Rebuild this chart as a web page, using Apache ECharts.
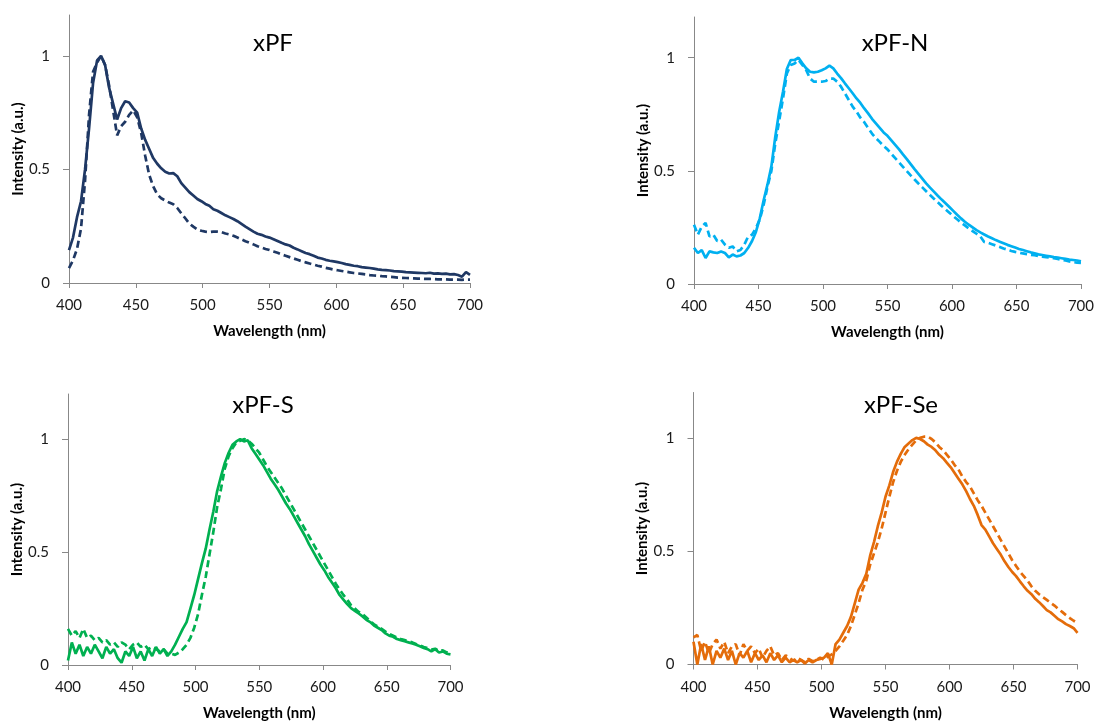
<!DOCTYPE html>
<html>
<head>
<meta charset="utf-8">
<script src="https://cdn.jsdelivr.net/npm/echarts@6/dist/echarts.min.js"></script>
<style>
  html, body { margin: 0; padding: 0; background: #ffffff; }
  #chart { width: 1097px; height: 724px; }
</style>
</head>
<body>
<div id="chart"></div>
<script>
// Emission wavelength grid (nm), 3 nm steps
const wavelength = [
  400,403,406,409,412,415,418,421,424,427,
  430,433,436,439,442,445,448,451,454,457,
  460,463,466,469,472,475,478,481,484,487,
  490,493,496,499,502,505,508,511,514,517,
  520,523,526,529,532,535,538,541,544,547,
  550,553,556,559,562,565,568,571,574,577,
  580,583,586,589,592,595,598,601,604,607,
  610,613,616,619,622,625,628,631,634,637,
  640,643,646,649,652,655,658,661,664,667,
  670,673,676,679,682,685,688,691,694,697,
  700
];

const xTicks = [400, 450, 500, 550, 600, 650, 700];
const yTicks = [0, 0.5, 1];
const panelTitles = ['xPF', 'xPF-N', 'xPF-S', 'xPF-Se'];
const panelColors = ['#1f3864', '#00b0f0', '#00b050', '#e46c0a'];
const xAxisName = 'Wavelength (nm)';
const yAxisName = 'Intensity (a.u.)';

// xPF normalised emission
const xpfCurve1 = [
  0.145,0.2,0.29,0.36,0.5,0.68,0.88,0.98,1.0,0.96,
  0.86,0.79,0.72,0.77,0.80,0.795,0.77,0.75,0.68,0.63,
  0.59,0.55,0.525,0.505,0.49,0.482,0.484,0.47,0.44,0.42,
  0.40,0.385,0.37,0.36,0.348,0.34,0.325,0.318,0.308,0.298,
  0.29,0.282,0.272,0.26,0.248,0.237,0.226,0.217,0.212,0.205,
  0.20,0.193,0.185,0.177,0.17,0.165,0.155,0.148,0.14,0.132,
  0.127,0.12,0.112,0.108,0.102,0.098,0.095,0.092,0.088,0.083,
  0.08,0.076,0.074,0.07,0.068,0.066,0.063,0.06,0.058,0.057,
  0.055,0.052,0.051,0.05,0.048,0.047,0.046,0.045,0.044,0.043,
  0.045,0.041,0.042,0.04,0.041,0.038,0.039,0.035,0.028,0.048,
  0.036
];
const xpfCurve2 = [
  0.066,0.1,0.15,0.24,0.45,0.74,0.93,0.97,1.0,0.96,
  0.87,0.76,0.65,0.69,0.71,0.74,0.76,0.73,0.66,0.56,
  0.476,0.425,0.39,0.373,0.363,0.354,0.347,0.33,0.307,0.285,
  0.262,0.248,0.236,0.23,0.226,0.224,0.226,0.226,0.224,0.218,
  0.214,0.208,0.20,0.192,0.184,0.177,0.17,0.162,0.156,0.15,
  0.145,0.139,0.133,0.126,0.12,0.114,0.108,0.102,0.096,0.091,
  0.086,0.081,0.076,0.072,0.067,0.063,0.059,0.056,0.053,0.05,
  0.047,0.044,0.042,0.04,0.038,0.035,0.033,0.032,0.03,0.029,
  0.027,0.026,0.024,0.023,0.022,0.021,0.02,0.019,0.019,0.018,
  0.018,0.017,0.016,0.016,0.016,0.015,0.015,0.015,0.014,0.015,
  0.015
];

// xPF-N normalised emission
const xpfNCurve1 = [
  0.16,0.137,0.15,0.115,0.144,0.14,0.137,0.144,0.137,0.118,
  0.13,0.122,0.126,0.137,0.16,0.19,0.23,0.29,0.37,0.44,
  0.52,0.65,0.76,0.85,0.95,0.99,0.99,1.0,0.975,0.953,
  0.938,0.935,0.938,0.945,0.953,0.965,0.953,0.93,0.91,0.887,
  0.865,0.843,0.82,0.80,0.776,0.754,0.73,0.71,0.69,0.67,
  0.655,0.635,0.615,0.595,0.573,0.552,0.53,0.508,0.487,0.466,
  0.445,0.426,0.408,0.39,0.373,0.357,0.34,0.323,0.306,0.29,
  0.275,0.262,0.25,0.238,0.228,0.219,0.21,0.202,0.194,0.187,
  0.18,0.173,0.167,0.161,0.155,0.15,0.145,0.14,0.136,0.131,
  0.128,0.125,0.122,0.119,0.117,0.114,0.111,0.108,0.106,0.104,
  0.10
];
const xpfNCurve2 = [
  0.262,0.218,0.254,0.27,0.21,0.218,0.19,0.196,0.174,0.16,
  0.166,0.144,0.15,0.174,0.21,0.218,0.247,0.285,0.35,0.43,
  0.50,0.62,0.72,0.82,0.93,0.968,0.975,0.99,0.968,0.945,
  0.908,0.894,0.894,0.894,0.897,0.908,0.908,0.894,0.872,0.843,
  0.813,0.784,0.762,0.735,0.715,0.69,0.665,0.645,0.628,0.61,
  0.595,0.575,0.556,0.537,0.518,0.499,0.48,0.462,0.444,0.427,
  0.41,0.393,0.377,0.361,0.345,0.33,0.315,0.3,0.286,0.272,
  0.259,0.246,0.234,0.222,0.21,0.186,0.182,0.176,0.17,0.164,
  0.157,0.152,0.146,0.142,0.139,0.135,0.132,0.129,0.127,0.124,
  0.121,0.119,0.116,0.114,0.111,0.107,0.104,0.1,0.097,0.094,
  0.093
];

// xPF-S normalised emission
const xpfSCurve1 = [
  0.02,0.10,0.05,0.09,0.04,0.08,0.05,0.09,0.06,0.03,
  0.08,0.05,0.07,0.03,0.01,0.06,0.04,0.08,0.03,0.06,
  0.02,0.07,0.04,0.08,0.05,0.07,0.04,0.06,0.09,0.125,
  0.16,0.19,0.25,0.31,0.38,0.45,0.515,0.60,0.68,0.77,
  0.835,0.895,0.94,0.975,0.99,1.0,0.99,0.995,0.96,0.935,
  0.91,0.885,0.855,0.825,0.80,0.775,0.745,0.715,0.69,0.66,
  0.63,0.60,0.57,0.535,0.505,0.475,0.445,0.42,0.39,0.365,
  0.34,0.31,0.29,0.27,0.252,0.24,0.228,0.215,0.2,0.19,
  0.175,0.165,0.155,0.14,0.13,0.125,0.115,0.11,0.105,0.1,
  0.095,0.09,0.083,0.075,0.07,0.06,0.07,0.055,0.06,0.05,
  0.047
];
const xpfSCurve2 = [
  0.16,0.13,0.15,0.12,0.16,0.12,0.13,0.11,0.12,0.10,
  0.11,0.09,0.10,0.08,0.10,0.09,0.07,0.09,0.10,0.08,
  0.09,0.07,0.08,0.07,0.06,0.07,0.05,0.05,0.045,0.055,
  0.07,0.09,0.12,0.165,0.225,0.31,0.39,0.49,0.59,0.70,
  0.78,0.87,0.925,0.96,0.985,0.993,1.0,0.995,0.98,0.96,
  0.94,0.91,0.88,0.855,0.83,0.805,0.78,0.75,0.72,0.69,
  0.66,0.63,0.60,0.57,0.54,0.51,0.48,0.45,0.42,0.39,
  0.36,0.335,0.31,0.29,0.265,0.25,0.235,0.225,0.21,0.195,
  0.18,0.17,0.16,0.148,0.138,0.13,0.122,0.115,0.11,0.105,
  0.1,0.093,0.087,0.08,0.075,0.068,0.072,0.062,0.065,0.056,
  0.05
];

// xPF-Se normalised emission
const xpfSeCurve1 = [
  0.10,0.0,0.09,0.02,0.08,0.0,0.06,0.03,0.07,0.02,
  0.06,0.0,0.05,0.03,0.06,0.01,0.05,0.02,0.04,0.01,
  0.05,0.02,0.04,0.01,0.03,0.01,0.02,0.01,0.02,0.005,
  0.02,0.01,0.02,0.025,0.03,0.05,0.0,0.09,0.11,0.14,
  0.17,0.21,0.27,0.33,0.36,0.40,0.48,0.54,0.61,0.67,
  0.74,0.79,0.85,0.895,0.93,0.96,0.975,0.99,1.0,0.995,
  0.985,0.97,0.96,0.945,0.925,0.91,0.89,0.87,0.845,0.82,
  0.795,0.765,0.73,0.70,0.66,0.615,0.595,0.565,0.535,0.51,
  0.485,0.455,0.43,0.408,0.39,0.367,0.345,0.325,0.31,0.29,
  0.275,0.258,0.24,0.23,0.215,0.2,0.19,0.178,0.17,0.16,
  0.14
];
const xpfSeCurve2 = [
  0.12,0.13,0.06,0.10,0.05,0.09,0.11,0.07,0.10,0.05,
  0.08,0.09,0.04,0.09,0.06,0.08,0.05,0.07,0.03,0.06,
  0.08,0.04,0.05,0.02,0.04,0.03,0.015,0.03,0.02,0.01,
  0.025,0.015,0.02,0.03,0.02,0.035,0.045,0.06,0.08,0.105,
  0.13,0.17,0.22,0.27,0.33,0.37,0.44,0.49,0.54,0.6,
  0.67,0.74,0.805,0.855,0.895,0.925,0.95,0.97,0.99,1.0,
  1.005,1.005,0.995,0.98,0.96,0.945,0.925,0.905,0.88,0.86,
  0.83,0.805,0.785,0.755,0.725,0.7,0.67,0.64,0.61,0.58,
  0.55,0.52,0.49,0.46,0.435,0.41,0.39,0.37,0.345,0.325,
  0.31,0.297,0.285,0.272,0.26,0.245,0.232,0.218,0.205,0.193,
  0.183
];

const panels = [
  { title: panelTitles[0], color: panelColors[0], curves: [xpfCurve1, xpfCurve2],
    grid: { left: 69, top: 15, width: 401, height: 268 }, yMax: 1.18, titleAt: [273, 43] },
  { title: panelTitles[1], color: panelColors[1], curves: [xpfNCurve1, xpfNCurve2],
    grid: { left: 694, top: 17, width: 389, height: 267 }, yMax: 1.18, titleAt: [895, 43] },
  { title: panelTitles[2], color: panelColors[2], curves: [xpfSCurve1, xpfSCurve2],
    grid: { left: 68, top: 394, width: 382.5, height: 271 }, yMax: 1.2, titleAt: [263, 405] },
  { title: panelTitles[3], color: panelColors[3], curves: [xpfSeCurve1, xpfSeCurve2],
    grid: { left: 693.5, top: 392.5, width: 384, height: 272 }, yMax: 1.2, titleAt: [901, 405] }
];

const FONT = 'Lato, "Open Sans", sans-serif';
const AXIS_GREY = '#888888';

const pairs = (ys) => wavelength.map((w, i) => [w, ys[i]]);

const grids = [], xAxes = [], yAxes = [], series = [], texts = [];

panels.forEach((p, k) => {
  grids.push(Object.assign({ containLabel: false }, p.grid));

  xAxes.push({
    type: 'value', gridIndex: k, min: 400, max: 700, interval: 50,
    name: xAxisName, nameLocation: 'middle', nameGap: 41,
    nameTextStyle: { fontFamily: FONT, fontWeight: 'bold', fontSize: 15, color: '#000' },
    axisLine: { show: true, onZero: false, lineStyle: { color: AXIS_GREY, width: 1 } },
    axisTick: { show: true, length: 5, customValues: xTicks, lineStyle: { color: AXIS_GREY } },
    axisLabel: { customValues: xTicks, margin: 15, fontFamily: FONT, fontSize: 15, color: '#1a1a1a' },
    splitLine: { show: false }
  });

  yAxes.push({
    type: 'value', gridIndex: k, min: 0, max: p.yMax, interval: 0.5,
    name: yAxisName, nameLocation: 'middle', nameGap: 42,
    nameTextStyle: { fontFamily: FONT, fontWeight: 'bold', fontSize: 15, color: '#000' },
    axisLine: { show: true, lineStyle: { color: AXIS_GREY, width: 1 } },
    axisTick: { show: true, length: 6, customValues: yTicks, lineStyle: { color: AXIS_GREY } },
    axisLabel: { customValues: yTicks, margin: 19, fontFamily: FONT, fontSize: 15, color: '#1a1a1a',
                 formatter: (v) => String(v) },
    splitLine: { show: false }
  });

  p.curves.forEach((ys, j) => {
    series.push({
      type: 'line', xAxisIndex: k, yAxisIndex: k,
      data: pairs(ys), showSymbol: false, symbol: 'none', silent: true,
      lineStyle: { color: p.color, width: 2.7, type: j === 0 ? 'solid' : [7, 4] },
      z: j === 0 ? 3 : 2
    });
  });

  texts.push({
    type: 'text', x: p.titleAt[0], y: p.titleAt[1],
    style: { text: p.title, fontFamily: FONT, fontSize: 24, fill: '#000',
             align: 'center', verticalAlign: 'middle' }
  });
});

const chart = echarts.init(document.getElementById('chart'), null, { renderer: 'canvas' });
chart.setOption({
  backgroundColor: '#ffffff',
  animation: false,
  grid: grids,
  xAxis: xAxes,
  yAxis: yAxes,
  series: series,
  graphic: texts
});
</script>
</body>
</html>
